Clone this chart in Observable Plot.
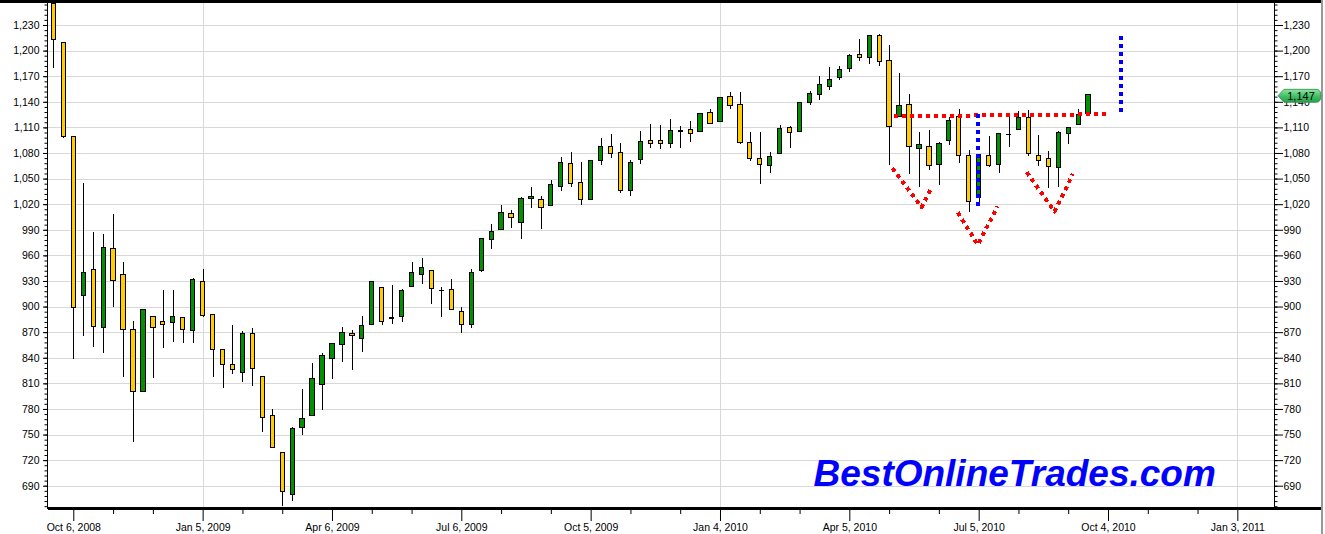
<!DOCTYPE html>
<html><head><meta charset="utf-8">
<script src="https://cdn.jsdelivr.net/npm/d3@7"></script>
<script src="https://cdn.jsdelivr.net/npm/@observablehq/plot@0.6"></script>
<style>
html,body{margin:0;padding:0;background:#fff;}
#chart{width:1325px;height:534px;overflow:hidden;position:relative;}
</style></head><body><div id="chart"></div>
<script>
// ---- weekly candles (first bar = week of Sep 22, 2008) ----
const firstWeek = "2008-09-22";
const open = [1255,1210,1099,913,944,875,968,937,873,801,888,883,881.5,887,872,929,891,850,832,823,868,818,772.5,729,680,758,772,809,839,856,869,862,879,922,886.5,888,924,937.5,942,918.4,920,894,879,942,979,990.5,1009.5,999,1026.5,1025.5,1019,1041,1068,1045,1026,1071.5,1088,1080,1036.5,1072,1094.5,1095,1091.5,1105,1107.5,1105,1127.5,1117,1146,1137,1092,1073.5,1065.5,1079.5,1110,1105,1139,1149,1158,1168,1179,1195.5,1192,1218,1188,1122.5,1136.5,1085,1087.5,1066.5,1095,1123,1077,1028,1077.5,1066.5,1102,1107.5,1122,1077,1073.5,1063,1103,1113.5,1126.5];
const high = [1256,1210,1099,1045,987,985,1009,952,883,897,889,919,919,888,934,944,891,850,878,871,875,818,780,729,759,803,834,845,857,876,872.5,889,930,922,925,920.6,952,957,942,922.6,932,899,943.6,980,997,1019,1013,1028,1040,1029,1048,1075,1081,1070,1072,1097.5,1102,1092,1072,1106,1114,1112.4,1120,1112,1117,1127,1131,1146,1151,1151,1105,1105,1081,1112.4,1112,1139.5,1153,1170,1181,1181.6,1196,1214,1218,1220,1206,1174,1149,1105,1107,1092.5,1122,1131,1083,1078.5,1099.5,1104,1123,1129,1130,1100.7,1082,1105.4,1111,1132,1149];
const low = [1180,1097,839,866,853,845,900,818,741,801,816,851,858,857,857,888,817,804,821,812,807,753,734,666,672,750,772,779,815,835,826,847,879,878.7,879,881.5,924,926,903,888,896,869,875,941,968,990,992,979,1016,991,1019,1035,1040,1019,1025,1066,1074.5,1033.5,1029,1067,1086,1084.5,1086,1086,1093,1105,1115,1117,1132,1090,1071,1044,1057,1079,1086,1105,1136,1141.7,1153.5,1166,1175.5,1187.5,1184,1181.6,1065.5,1122,1055.5,1040.5,1060,1042,1089,1068,1011,1019,1063,1057,1087,1107,1077,1064.4,1039,1040.5,1091,1113,1126.5];
const close = [1213.3,1099,899,940,877,969,931,873,800,897,876,879,888,873,932,890,850,832,826,869,827,770,735,683,756.6,768.5,816,842.5,856.6,869.6,866.2,877.5,929.2,882.9,887,919.1,940,946.2,921.2,918.9,896.4,879.1,940.4,979.3,987.5,1010.5,1004.1,1026.1,1028.9,1016.4,1042.7,1068.3,1044.4,1025.2,1071.5,1087.7,1079.6,1036.2,1069.3,1093.5,1091.4,1091.4,1106,1106.4,1102.5,1126.5,1115.1,1145,1136,1091.8,1073.9,1066.2,1075.5,1109.2,1104.5,1138.7,1150,1159.9,1166.6,1178.1,1194.4,1192.1,1217.3,1186.7,1110.9,1135.7,1087.7,1089.4,1064.9,1091.6,1117.5,1076.8,1022.6,1078,1064.9,1102.7,1101.6,1121.6,1079.3,1071.7,1064.6,1104.5,1109.6,1125.6,1148.7];
const lastQuote = 1147;

// ---- axes ----
const yTickValues = [690,720,750,780,810,840,870,900,930,960,990,1020,1050,1080,1110,1140,1170,1200,1230];
const yMinorStep = 6;
const quarterTicks = ["2008-10-06","2009-01-05","2009-04-06","2009-07-06","2009-10-05","2010-01-04","2010-04-05","2010-07-05","2010-10-04","2011-01-03"];
const monthTicks = ["2008-11-03","2008-12-01","2009-02-02","2009-03-02","2009-05-04","2009-06-01","2009-08-03","2009-09-07","2009-11-02","2009-12-07","2010-02-01","2010-03-01","2010-05-03","2010-06-07","2010-08-02","2010-09-06","2010-11-01","2010-12-06"];
const yearGrid = ["2009-01-05","2010-01-04","2011-01-03"];
const xDomain = ["2008-09-17T12:00Z","2011-01-28T19:00Z"];
const yDomain = [663.9, 1256.96];

// ---- hand-drawn annotations (inverse head & shoulders) ----
const necklineDates = ["2010-05-06","2010-10-04"];
const necklineValues = [1123.7, 1126];
const leftShoulderDates = ["2010-05-05","2010-05-25T12:00","2010-06-01T12:00"];
const leftShoulderValues = [1062.7, 1017, 1039.8];
const headDates = ["2010-06-20","2010-07-04","2010-07-18"];
const headValues = [1010.8, 973, 1017.8];
const rightShoulderDates = ["2010-08-07T12:00","2010-08-27","2010-09-09"];
const rightShoulderValues = [1058, 1012, 1056];
const headDepthDates = ["2010-07-04T07:00","2010-07-04T07:00"];
const headDepthValues = [1126.5, 1013.2];
const targetDates = ["2010-10-13","2010-10-13"];
const targetValues = [1128.9, 1222.6];
const watermark = "BestOnlineTrades.com";

const UP = "#009000", DOWN = "#ffcc00";
const bars = open.map((o, i) => {
  const date = d3.utcMonday.offset(new Date(firstWeek), i);
  return {date, open: o, high: high[i], low: low[i], close: close[i]};
});
const toLine = (ds, vs) => ds.map((d, i) => ({date: new Date(d.length > 10 ? d + "Z" : d), value: vs[i]}));
const dates = a => a.map(d => new Date(d));
const yMinor = d3.range(Math.ceil(yDomain[0] / yMinorStep) * yMinorStep, yDomain[1], yMinorStep);
const noText = () => "";

const dotted = {x: "date", y: "value", strokeWidth: 4, strokeDasharray: "4,4", strokeLinecap: "butt", shapeRendering: "crispEdges"};

const plot = Plot.plot({
  width: 1325, height: 534,
  marginLeft: 47, marginRight: 51, marginTop: 2, marginBottom: 26,
  style: {fontFamily: "'Liberation Sans', Arial, sans-serif", fontSize: "10.5px", color: "#000", background: "#fff"},
  x: {type: "utc", domain: dates(xDomain)},
  y: {domain: yDomain},
  marks: [
    Plot.ruleY(yTickValues, {stroke: "#d8d8d8", shapeRendering: "crispEdges"}),
    Plot.ruleX(dates(yearGrid), {stroke: "#d8d8d8", shapeRendering: "crispEdges"}),
    Plot.frame({stroke: "#000", shapeRendering: "crispEdges"}),
    Plot.axisY(yMinor, {anchor: "left", tickSize: 2.5, tickFormat: noText, label: null}),
    Plot.axisY(yTickValues, {anchor: "left", tickSize: 4, tickPadding: 4, tickFormat: d3.format(","), label: null}),
    Plot.axisY(yMinor, {anchor: "right", tickSize: 2.5, tickFormat: noText, label: null}),
    Plot.axisY(yTickValues, {anchor: "right", tickSize: 8, tickPadding: 1, tickFormat: d3.format(","), label: null}),
    Plot.axisX(dates(monthTicks), {anchor: "bottom", tickSize: 6, tickFormat: noText, label: null}),
    Plot.axisX(dates(quarterTicks), {anchor: "bottom", tickSize: 13, tickPadding: 2, tickFormat: d3.utcFormat("%b %-d, %Y"), label: null}),
    Plot.ruleX(bars, {x: "date", y1: "low", y2: "high", stroke: "#000", clip: true, shapeRendering: "crispEdges"}),
    Plot.rect(bars, {
      x1: d => d3.utcHour.offset(d.date, -36),
      x2: d => d3.utcHour.offset(d.date, 36),
      y1: "open", y2: "close",
      fill: d => d.close >= d.open ? UP : DOWN,
      stroke: "#000", strokeWidth: 1, clip: true, shapeRendering: "crispEdges"
    }),
    Plot.line(toLine(necklineDates, necklineValues), {...dotted, stroke: "#ff0000"}),
    Plot.line(toLine(leftShoulderDates, leftShoulderValues), {...dotted, stroke: "#ff0000"}),
    Plot.line(toLine(headDates, headValues), {...dotted, stroke: "#ff0000"}),
    Plot.line(toLine(rightShoulderDates, rightShoulderValues), {...dotted, stroke: "#ff0000"}),
    Plot.line(toLine(headDepthDates, headDepthValues), {...dotted, stroke: "#0000ff"}),
    Plot.line(toLine(targetDates, targetValues), {...dotted, stroke: "#0000ff"}),
    Plot.text([watermark], {
      text: d => d, frameAnchor: "bottom-left", textAnchor: "start", lineAnchor: "bottom",
      dx: 766, dy: -23, fill: "#0000ff", fontSize: 37, fontWeight: "bold", fontStyle: "italic",
      fontFamily: "'Liberation Sans', Arial, sans-serif"
    })
  ]
});
document.getElementById("chart").appendChild(plot);

// chart chrome: thick top/bottom rules, right border, last-price tag
const svg = d3.select(plot);
const W = 1325, H = 534;
const [, xr1] = plot.scale("x").range;
const [yb] = plot.scale("y").range;
svg.append("line").attr("x1", 0).attr("x2", W - 3).attr("y1", 1.5).attr("y2", 1.5).attr("stroke", "#000").attr("stroke-width", 3);
svg.append("line").attr("x1", 48).attr("x2", W - 3).attr("y1", yb + 0.5).attr("y2", yb + 0.5).attr("stroke", "#000").attr("stroke-width", 3);
svg.append("line").attr("x1", W - 3).attr("x2", W - 3).attr("y1", 0).attr("y2", H).attr("stroke", "#999").attr("stroke-width", 2);

const defs = svg.append("defs");
const grad = defs.append("linearGradient").attr("id", "tagGrad").attr("x1", 0).attr("x2", 0).attr("y1", 0).attr("y2", 1);
grad.append("stop").attr("offset", "0%").attr("stop-color", "#8fe6a0");
grad.append("stop").attr("offset", "55%").attr("stop-color", "#3fbf64");
grad.append("stop").attr("offset", "100%").attr("stop-color", "#2a9e4c");
const yc = plot.scale("y").apply(lastQuote);
const tx = xr1 + 4;
svg.append("path")
  .attr("d", `M${tx},${yc} L${tx + 6},${yc - 6.5} L${tx + 38},${yc - 6.5} Q${tx + 43},${yc - 6.5} ${tx + 43},${yc} Q${tx + 43},${yc + 6.5} ${tx + 38},${yc + 6.5} L${tx + 6},${yc + 6.5} Z`)
  .attr("fill", "url(#tagGrad)").attr("stroke", "#2a8a45").attr("stroke-width", 0.8);
svg.append("text").attr("x", tx + 23).attr("y", yc + 4).attr("text-anchor", "middle")
  .attr("font-family", "'Liberation Sans', Arial, sans-serif").attr("font-size", 11).attr("fill", "#000")
  .text(d3.format(",")(lastQuote));
</script></body></html>
